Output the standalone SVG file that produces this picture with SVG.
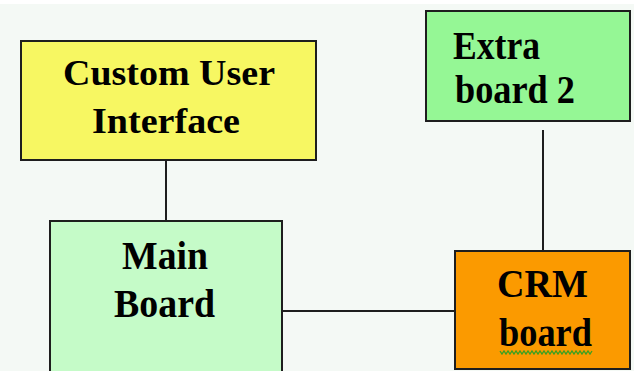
<svg xmlns="http://www.w3.org/2000/svg" width="634" height="371" viewBox="0 0 634 371">
  <style>
    .box { stroke: #1e1e1e; stroke-width: 2; }
    .lbl { font-family: "Liberation Serif", "Times New Roman", serif; font-weight: bold; font-size: 39px; fill: #000; }
    .lbl.sm { font-size: 35px; }
    .wire { stroke: #1e1e1e; stroke-width: 2; fill: none; }
  </style>
  <rect x="0" y="0" width="634" height="371" fill="#f4f9f5"/>
  <rect x="0" y="0" width="634" height="4" fill="#ffffff"/>

  <g id="connectors">
    <line class="wire" x1="166" y1="160" x2="166" y2="221"/>
    <line class="wire" x1="543" y1="130" x2="543" y2="251"/>
    <line class="wire" x1="282" y1="311" x2="455" y2="311"/>
  </g>

  <g id="custom-ui">
    <rect class="box" x="21" y="41" width="295" height="119" fill="#f7f762"/>
    <text class="lbl sm" x="63" y="85" textLength="212" lengthAdjust="spacingAndGlyphs">Custom User</text>
    <text class="lbl sm" x="92" y="133" textLength="148" lengthAdjust="spacingAndGlyphs">Interface</text>
  </g>

  <g id="extra-board-2">
    <rect class="box" x="426" y="11" width="204" height="110" fill="#95f795"/>
    <text class="lbl" x="453" y="59" textLength="87" lengthAdjust="spacingAndGlyphs">Extra</text>
    <text class="lbl" x="455" y="103" textLength="120" lengthAdjust="spacingAndGlyphs">board 2</text>
  </g>

  <g id="main-board">
    <rect class="box" x="50" y="221" width="232" height="160" fill="#c5fbc8"/>
    <text class="lbl" x="122" y="269" textLength="86" lengthAdjust="spacingAndGlyphs">Main</text>
    <text class="lbl" x="114" y="317" textLength="101" lengthAdjust="spacingAndGlyphs">Board</text>
  </g>

  <g id="crm-board">
    <rect class="box" x="455" y="251" width="175" height="118" fill="#fb9a00"/>
    <text class="lbl" x="497" y="297" textLength="91" lengthAdjust="spacingAndGlyphs">CRM</text>
    <text class="lbl" x="499" y="346" textLength="93" lengthAdjust="spacingAndGlyphs">board</text>
    <path d="M500 351 l2 3 l2 -3 l2 3 l2 -3 l2 3 l2 -3 l2 3 l2 -3 l2 3 l2 -3 l2 3 l2 -3 l2 3 l2 -3 l2 3 l2 -3 l2 3 l2 -3 l2 3 l2 -3 l2 3 l2 -3 l2 3 l2 -3 l2 3 l2 -3 l2 3 l2 -3 l2 3 l2 -3 l2 3 l2 -3 l2 3 l2 -3 l2 3 l2 -3 l2 3 l2 -3 l2 3 l2 -3 l2 3 l2 -3 l2 3 l2 -3 l2 3 l2 -3" fill="none" stroke="#3aa020" stroke-width="1.3"/>
  </g>
</svg>
